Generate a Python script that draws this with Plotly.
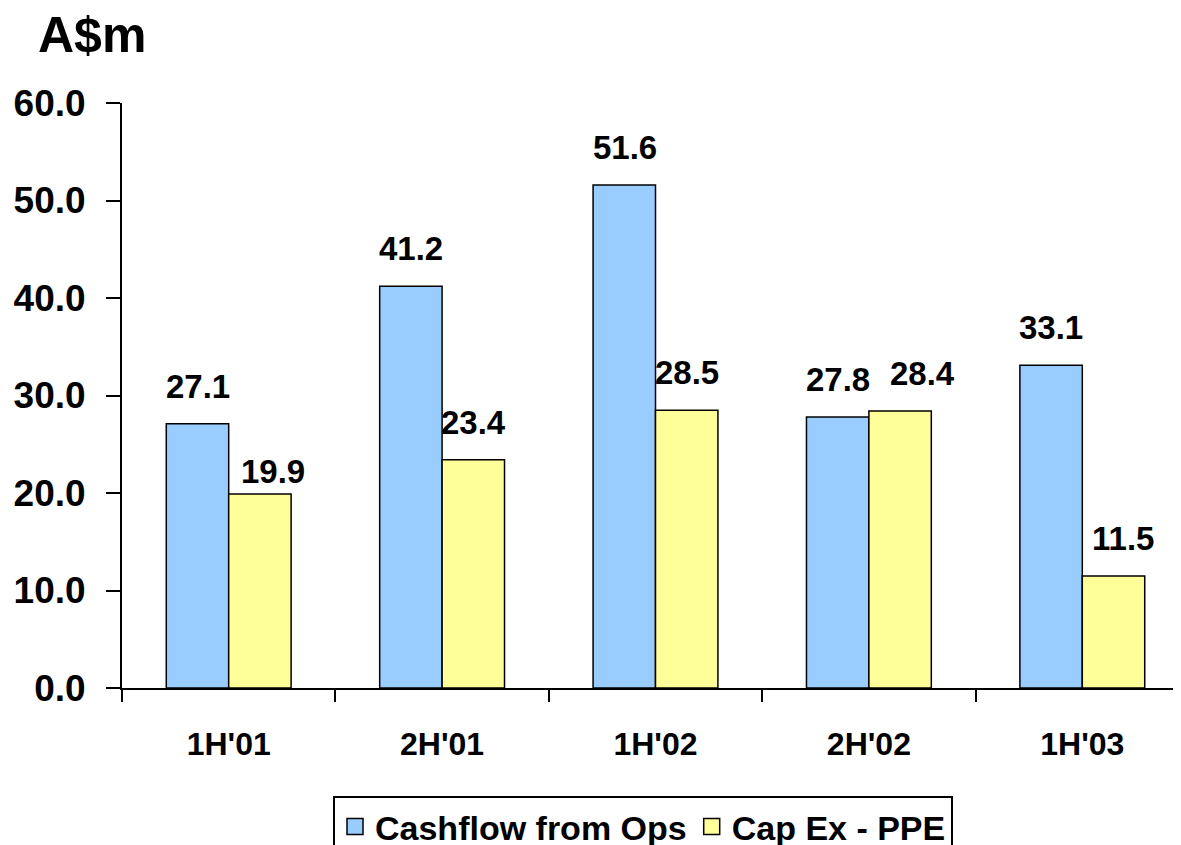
import plotly.graph_objects as go

periods = ["1H'01", "2H'01", "1H'02", "2H'02", "1H'03"]
cashflow_ops = [27.1, 41.2, 51.6, 27.8, 33.1]
capex_ppe = [19.9, 23.4, 28.5, 28.4, 11.5]
y_ticks = [0, 10, 20, 30, 40, 50, 60]

BLUE = "#99CCFF"
YELLOW = "#FFFF99"
FONT = "Arial, Liberation Sans, sans-serif"

W, H = 1181, 845
PAGE_OFF = 8  # default body margin of the html page
L, T = 122 - PAGE_OFF, 103 - PAGE_OFF
B = H - (688 - PAGE_OFF)

fig = go.Figure()
for name, vals, col in [("Cashflow from Ops", cashflow_ops, BLUE),
                        ("Cap Ex - PPE", capex_ppe, YELLOW)]:
    fig.add_bar(x=periods, y=vals, name=name, showlegend=False,
                marker=dict(color=col, line=dict(color="black", width=1.5)))
# legend entries with bigger square swatches
for name, col in [("Cashflow from Ops", BLUE), ("Cap Ex - PPE", YELLOW)]:
    fig.add_scatter(x=[None], y=[None], mode="markers", name=name,
                    marker=dict(symbol="square", size=20, color=col,
                                line=dict(color="black", width=1.5)))

# value labels above each bar (a few are nudged like in the original)
half_bar = 31
nudge = {(1, 0): (13, -15), (1, 3): (23, 0), (1, 4): (10, 0)}
annotations = []
for s, vals in enumerate([cashflow_ops, capex_ppe]):
    for i, v in enumerate(vals):
        dx, dy = nudge.get((s, i), (0, 0))
        annotations.append(dict(
            x=periods[i], y=v, text=f"{v:.1f}", showarrow=False,
            xshift=(-half_bar if s == 0 else half_bar) + dx, yshift=17 + dy,
            yanchor="bottom", xanchor="center",
            font=dict(size=33, family=FONT, color="black", weight="bold")))

annotations.append(dict(
    text="A$m", xref="paper", yref="paper", x=-0.0803, y=1.168,
    xanchor="left", yanchor="top", showarrow=False,
    font=dict(size=50, family=FONT, color="black", weight="bold")))

fig.update_layout(
    width=W, height=H,
    margin=dict(l=L, r=0, t=T, b=B, autoexpand=False),
    paper_bgcolor="white", plot_bgcolor="white",
    barmode="group", bargap=0.415, bargroupgap=0,
    font=dict(family=FONT, color="black"),
    annotations=annotations,
    legend=dict(
        orientation="h", xref="container", yref="container",
        x=(333 - PAGE_OFF) / W, y=1 - (796 - PAGE_OFF) / H,
        xanchor="left", yanchor="top",
        bordercolor="black", borderwidth=2,
        font=dict(size=34, family=FONT, color="black", weight="bold"),
        itemwidth=30),
)
fig.update_xaxes(
    range=[-0.5, 4.5], showline=True, linecolor="black", linewidth=2,
    ticks="outside", ticklen=12, tickwidth=2, tickcolor="black",
    tickson="boundaries", showgrid=False, automargin=False,
    tickfont=dict(size=32, family=FONT, color="black", weight="bold"),
    ticklabelstandoff=27)
fig.update_yaxes(
    range=[0, 60], tickvals=y_ticks, tickformat=".1f",
    showline=True, linecolor="black", linewidth=2,
    ticks="outside", ticklen=14, tickwidth=2, tickcolor="black",
    showgrid=False, zeroline=False, automargin=False,
    tickfont=dict(size=37, family=FONT, color="black", weight="bold"),
    ticklabelstandoff=13)

fig.write_html("out.html")
